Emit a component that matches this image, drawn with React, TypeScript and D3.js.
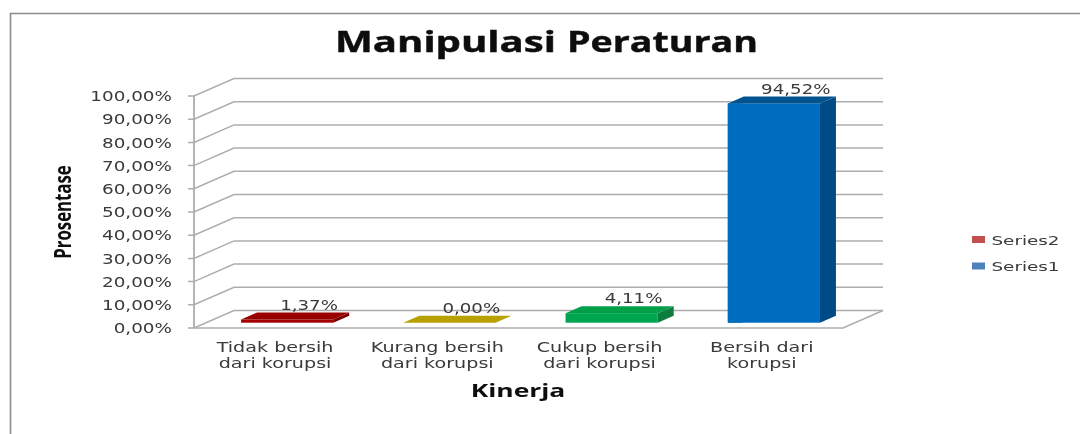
import React from "react";
import * as d3 from "d3";

const categories = ["Tidak bersih|dari korupsi", "Kurang bersih|dari korupsi", "Cukup bersih|dari korupsi", "Bersih dari|korupsi"];
const values = [1.37, 0, 4.11, 94.52];
const valueLabels = ["1,37%", "0,00%", "4,11%", "94,52%"];
const valueBaselines = [310, 313, 303, 93.5];
const barFront = ["#a50000", "#b8a000", "#00a650", "#006cbf"];
const barTop = ["#980000", "#b8a000", "#00a04c", "#00528f"];
const barSide = ["#7a0000", "#9a8600", "#0a7d3e", "#004c86"];
const yTicks = [0, 10, 20, 30, 40, 50, 60, 70, 80, 90, 100];
const legendNames = ["Series2", "Series1"];
const legendColors = ["#c0504d", "#4f81bd"];

const FONT = "'DejaVu Sans', Verdana, sans-serif";
const BOLD = "'Open Sans', 'Noto Sans', sans-serif";

function Stretch({ x, y, sx, anchor = "middle", size, bold, fill, children }: any) {
  return (
    <text
      transform={`translate(${x} ${y}) scale(${sx} 1)`}
      textAnchor={anchor}
      fontFamily={bold ? BOLD : FONT}
      fontWeight={bold ? 700 : 400}
      fontSize={size}
      fill={fill}
    >
      {children}
    </text>
  );
}

export default function App() {
  const y = d3.scaleLinear().domain([0, 100]).range([328, 96]);
  const x = d3.scaleBand<number>().domain(d3.range(categories.length)).range([206, 855]).paddingInner(70 / 162).paddingOuter(35 / 162);
  const wallDx = 40, wallDy = -17.5;
  const barDx = 16, barDy = -7, barLift = -5.3;
  const left = 194, right = 843;
  const grid = "#adadad";
  const ink = "#3a3a3a";
  const titleProps = { y: 52, fontFamily: BOLD, fontWeight: 700, fontSize: 28, fill: "#0c0c0c", stroke: "#0c0c0c", strokeWidth: 0.4, lengthAdjust: "spacingAndGlyphs" as const };
  return (
    <svg width={1080} height={434} style={{ position: "fixed", left: 0, top: 0, display: "block", background: "#fff" }}>
      <defs>
        <filter id="soft" x="-5%" y="-5%" width="110%" height="110%">
          <feGaussianBlur stdDeviation="0.45" />
        </filter>
      </defs>
      <g filter="url(#soft)">
        <path d="M10.5,434V13.5H1080" fill="none" stroke="#8c8c8c" strokeWidth={1.6} />
        {yTicks.map((t) => (
          <g key={t}>
            <polyline points={`${left - 6},${y(t)} ${left},${y(t)} ${left + wallDx},${y(t) + wallDy} ${right + wallDx},${y(t) + wallDy}`} fill="none" stroke={grid} strokeWidth={1.5} />
            <Stretch x={172} y={y(t) + 5.2} sx={1.36} anchor="end" size={13.5} fill={ink}>{t.toFixed(2).replace(".", ",")}%</Stretch>
          </g>
        ))}
        <line x1={left} x2={left} y1={y(100)} y2={y(0)} stroke={grid} strokeWidth={1.8} />
        <path d={`M${left},${y(0)}H${right}L${right + wallDx},${y(0) + wallDy}`} fill="none" stroke={grid} strokeWidth={1.5} />
        {values.map((v, i) => {
          const x0 = x(i)!;
          const x1 = x0 + x.bandwidth();
          const b = y(0) + barLift;
          const t = y(v) + barLift;
          return (
            <g key={i}>
              {v > 0 && <rect x={x0} y={t} width={x1 - x0} height={b - t} fill={barFront[i]} />}
              {i === 3 && <rect x={x0} y={t} width={15} height={b - t} fill="#066ebf" />}
              {v > 0 && <path d={`M${x1},${t}L${x1 + barDx},${t + barDy}V${b + barDy}L${x1},${b}Z`} fill={barSide[i]} />}
              <path d={`M${x0},${t}L${x0 + barDx},${t + barDy}H${x1 + barDx}L${x1},${t}Z`} fill={barTop[i]} />
              <Stretch x={x0 + 68} y={valueBaselines[i]} sx={1.35} size={13.5} fill={ink}>{valueLabels[i]}</Stretch>
              {categories[i].split("|").map((line, k) => (
                <Stretch key={k} x={x0 + 34} y={[352, 368][k]} sx={1.42} size={13.5} fill={ink}>{line}</Stretch>
              ))}
            </g>
          );
        })}
        <text x={335} textLength={221} {...titleProps}>Manipulasi</text>
        <text x={567} textLength={191} {...titleProps}>Peraturan</text>
        <Stretch x={518} y={397} sx={1.43} size={18.5} bold fill="#111">Kinerja</Stretch>
        <text transform="translate(71 212) rotate(-90) scale(0.84 1.12)" textAnchor="middle" fontFamily={BOLD} fontWeight={700} fontSize={20} fill="#111">Prosentase</text>
        {legendNames.map((n, i) => (
          <g key={n}>
            <rect x={972} y={236 + i * 26.5} width={13} height={7} fill={legendColors[i]} />
            <Stretch x={991.5} y={244.7 + i * 26} sx={1.41} anchor="start" size={13} fill={ink}>{n}</Stretch>
          </g>
        ))}
      </g>
    </svg>
  );
}
